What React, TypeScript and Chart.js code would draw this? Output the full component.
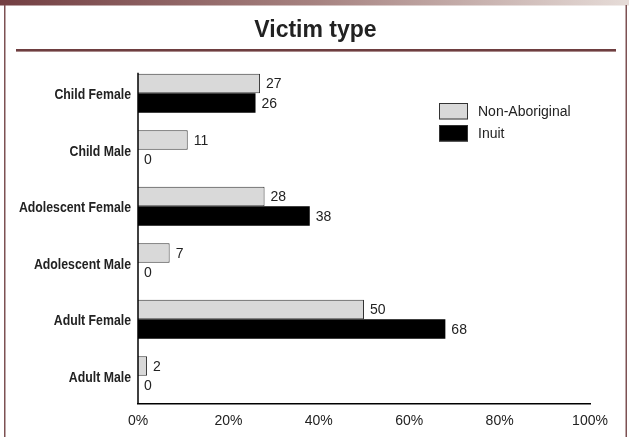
import { useEffect, useRef } from 'react';
import { Chart, registerables } from 'chart.js';

Chart.register(...registerables);

const chartTitle = 'Victim type';
const categories = ['Child Female', 'Child Male', 'Adolescent Female', 'Adolescent Male', 'Adult Female', 'Adult Male'];
const seriesNames = ['Non-Aboriginal', 'Inuit'];
const nonAboriginal = [27, 11, 28, 7, 50, 2];
const inuit = [26, 0, 38, 0, 68, 0];
const xTickValues = [0, 20, 40, 60, 80, 100];

const SANS = "'Liberation Sans', Arial, Helvetica, sans-serif";

const framePlugin = {
  id: 'frame',
  beforeDraw(chart: any) {
    const ctx = chart.ctx;
    const W = chart.width;
    const H = chart.height;
    ctx.save();
    ctx.fillStyle = '#ffffff';
    ctx.fillRect(0, 0, W, H);
    const g = ctx.createLinearGradient(0, 0, W, 0);
    g.addColorStop(0, '#733f42');
    g.addColorStop(0.5, '#a68280');
    g.addColorStop(1, '#e6dcd8');
    ctx.fillStyle = g;
    ctx.fillRect(0, 0, W, 5.5);
    ctx.fillStyle = '#7d5153';
    ctx.fillRect(4, 5, 1.5, H - 5);
    ctx.fillRect(625.5, 5, 1.5, H - 5);
    ctx.fillStyle = '#6e3e40';
    ctx.fillRect(16, 49, 600, 2);
    ctx.fillStyle = '#a98a8a';
    ctx.fillRect(16, 51, 600, 1);
    ctx.fillStyle = '#222222';
    ctx.font = `bold 23px ${SANS}`;
    ctx.textAlign = 'center';
    ctx.textBaseline = 'middle';
    ctx.fillText(chartTitle, 315.5, 31);
    ctx.restore();
  },
};

const labelsPlugin = {
  id: 'valueLabels',
  afterDatasetsDraw(chart: any) {
    const ctx = chart.ctx;
    ctx.save();
    // y axis line from first bar top to bottom
    const first = chart.getDatasetMeta(0).data[0];
    if (first) {
      const top = first.y - first.height / 2 - 1;
      ctx.strokeStyle = '#000';
      ctx.lineWidth = 1.5;
      ctx.beginPath();
      ctx.moveTo(chart.chartArea.left, top);
      ctx.lineTo(chart.chartArea.left, chart.chartArea.bottom);
      ctx.stroke();
    }
    // condensed bold category labels
    const yScale = chart.scales.y;
    ctx.fillStyle = '#222222';
    ctx.font = `bold 15px ${SANS}`;
    ctx.textAlign = 'right';
    ctx.textBaseline = 'middle';
    chart.data.labels.forEach((lab: string, i: number) => {
      const y = yScale.getPixelForTick(i);
      ctx.save();
      ctx.translate(chart.chartArea.left - 7, y + 2);
      ctx.scale(0.82, 1);
      ctx.fillText(lab, 0, 0);
      ctx.restore();
    });
    // value labels
    ctx.fillStyle = '#222222';
    ctx.font = `14px ${SANS}`;
    ctx.textAlign = 'left';
    ctx.textBaseline = 'middle';
    chart.data.datasets.forEach((ds: any, di: number) => {
      const meta = chart.getDatasetMeta(di);
      meta.data.forEach((el: any, i: number) => {
        ctx.fillText(String(ds.data[i]), el.x + 6, el.y + 1);
      });
    });
    // legend
    chart.data.datasets.forEach((ds: any, di: number) => {
      const bx = 439;
      const by = 103 + di * 22;
      ctx.fillStyle = ds.backgroundColor;
      ctx.fillRect(bx, by, 29, 16.5);
      ctx.strokeStyle = '#333';
      ctx.lineWidth = 1;
      ctx.strokeRect(bx + 0.5, by + 0.5, 28, 15.5);
      ctx.fillStyle = '#222222';
      ctx.font = `14px ${SANS}`;
      ctx.fillText(ds.label, 478, by + 9);
    });
    ctx.restore();
  },
};

export default function App() {
  const ref = useRef<HTMLCanvasElement>(null);
  useEffect(() => {
    document.body.style.margin = '0';
    const chart = new Chart(ref.current as HTMLCanvasElement, {
      type: 'bar',
      data: {
        labels: categories,
        datasets: [
          {
            label: seriesNames[0],
            data: nonAboriginal,
            backgroundColor: '#d9d9d9',
            borderColor: '#333333',
            borderWidth: 1,
            categoryPercentage: 0.69,
            barPercentage: 1,
          },
          {
            label: seriesNames[1],
            data: inuit,
            backgroundColor: '#000000',
            borderWidth: 0,
            categoryPercentage: 0.69,
            barPercentage: 1,
          },
        ],
      },
      options: {
        indexAxis: 'y',
        responsive: false,
        animation: false,
        layout: { padding: { top: 65, right: 39, left: 0, bottom: 0 } },
        plugins: { legend: { display: false }, tooltip: { enabled: false }, title: { display: false } },
        scales: {
          x: {
            min: 0,
            max: 100,
            afterBuildTicks: (s: any) => {
              s.ticks = xTickValues.map((v) => ({ value: v }));
            },
            afterFit: (s: any) => {
              s.height = 33;
            },
            grid: { display: false, drawTicks: false },
            border: { display: true, color: '#000', width: 1.5 },
            ticks: {
              padding: 9,
              color: '#222',
              font: { family: SANS, size: 14 },
              callback: (v: any) => `${v}%`,
              maxRotation: 0,
            },
          },
          y: {
            type: 'category',
            afterFit: (s: any) => {
              s.width = 138;
            },
            grid: { display: false, drawTicks: false },
            border: { display: false },
            ticks: { display: false },
          },
        },
      },
      plugins: [framePlugin, labelsPlugin],
    } as any);
    return () => chart.destroy();
  }, []);
  return <canvas ref={ref} width={629} height={437} style={{ display: 'block' }} />;
}
